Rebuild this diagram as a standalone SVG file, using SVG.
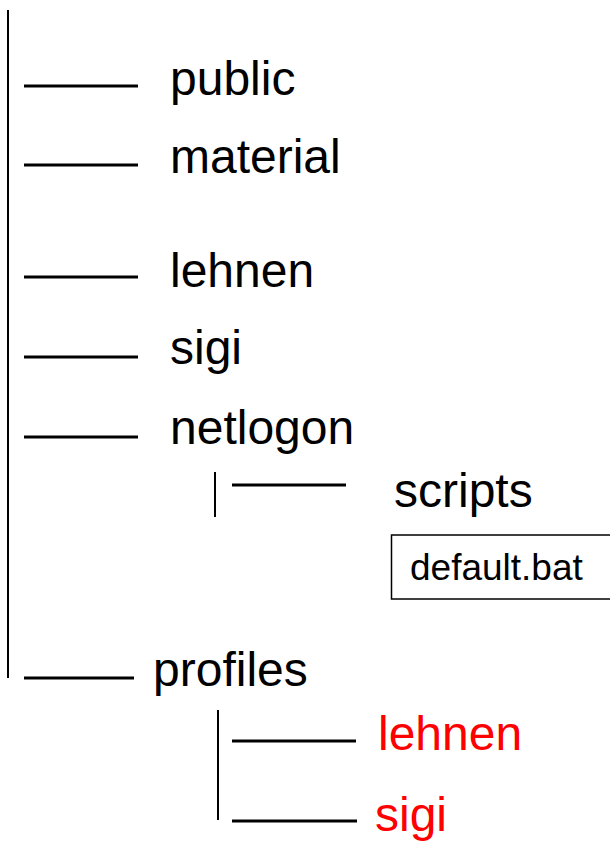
<svg xmlns="http://www.w3.org/2000/svg" width="610" height="841" viewBox="0 0 610 841">
<style>
.t{font-family:"Liberation Sans",Arial,sans-serif;font-size:48px;fill:#000}
.r{fill:#ff0000}
.c line{stroke:#000;stroke-width:3}
.c line.v{stroke-width:2}
</style>
<rect width="610" height="841" fill="#fff"/>
<g id="connectors" class="c">
<line class="v" x1="8" y1="10" x2="8" y2="678"/>
<line x1="24" y1="86" x2="138" y2="86"/>
<line x1="24" y1="165" x2="138" y2="165"/>
<line x1="24" y1="277" x2="138" y2="277"/>
<line x1="24" y1="357" x2="138" y2="357"/>
<line x1="24" y1="437" x2="138" y2="437"/>
<line class="v" x1="215" y1="472" x2="215" y2="517"/>
<line x1="232" y1="485" x2="346" y2="485"/>
<line x1="24" y1="678" x2="134" y2="678"/>
<line class="v" x1="218" y1="710" x2="218" y2="820"/>
<line x1="232" y1="741" x2="356" y2="741"/>
<line x1="232" y1="821" x2="357" y2="821"/>
</g>
<g id="public"><text class="t" x="170" y="95">public</text></g>
<g id="material"><text class="t" x="170" y="173">material</text></g>
<g id="lehnen"><text class="t" x="170" y="287">lehnen</text></g>
<g id="sigi"><text class="t" x="170" y="364">sigi</text></g>
<g id="netlogon"><text class="t" x="170" y="444">netlogon</text></g>
<g id="scripts"><text class="t" x="394" y="507">scripts</text></g>
<g id="default-bat"><rect x="391.5" y="535" width="230" height="64" fill="none" stroke="#000" stroke-width="1.5"/><text class="t" x="410" y="580" style="font-size:37px">default.bat</text></g>
<g id="profiles"><text class="t" x="153" y="686">profiles</text></g>
<g id="profiles-lehnen"><text class="t r" x="378" y="750">lehnen</text></g>
<g id="profiles-sigi"><text class="t r" x="375" y="831">sigi</text></g>
</svg>
